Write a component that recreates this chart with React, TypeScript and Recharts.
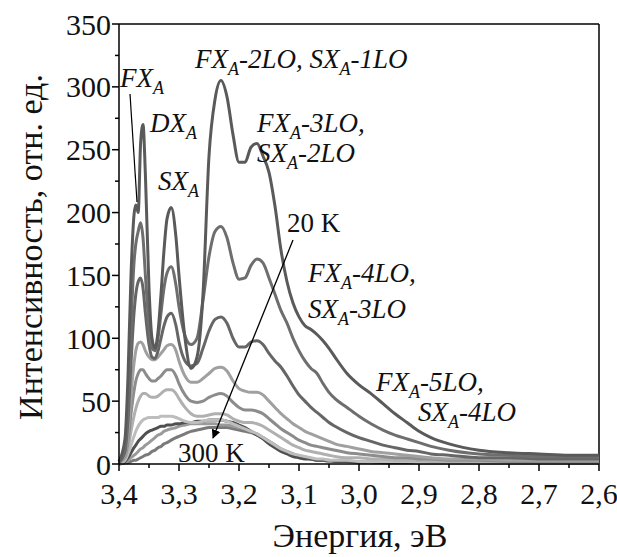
import React from 'react';
import { LineChart, Line, XAxis, YAxis, ReferenceLine } from 'recharts';

// photon energy, eV (shared grid for all spectra)
const energy = [
  3.4, 3.39, 3.385, 3.38, 3.375, 3.372, 3.368, 3.364, 3.36, 3.356,
  3.35, 3.345, 3.34, 3.335, 3.33, 3.325, 3.32, 3.313, 3.305, 3.3,
  3.29, 3.28, 3.27, 3.26, 3.25, 3.24, 3.23, 3.22, 3.21, 3.2,
  3.19, 3.18, 3.17, 3.16, 3.15, 3.14, 3.13, 3.12, 3.11, 3.1,
  3.09, 3.08, 3.07, 3.06, 3.05, 3.04, 3.02, 3.0, 2.98, 2.96,
  2.94, 2.92, 2.9, 2.88, 2.85, 2.8, 2.75, 2.7, 2.65, 2.6,
];

// intensities, arb. units, from 20 K (s1) up to 300 K (s10)
const s1 = [
  2, 20, 70, 150, 198, 206, 200, 255, 270, 230,
  140, 100, 92, 105, 135, 170, 195, 204, 180, 150,
  100, 76, 85, 135, 245, 290, 305, 292, 262, 240,
  240, 252, 255, 245, 232, 205, 170, 145, 128, 117,
  110, 107, 103, 98, 92, 85, 72, 63, 56, 48,
  40, 33, 26, 21, 16, 11, 9, 8, 7, 7,
];
const s2 = [
  2, 15, 50, 110, 160, 175, 185, 192, 180, 150,
  110, 92, 90, 100, 120, 140, 152, 157, 142, 125,
  102, 95, 100, 130, 165, 185, 189, 180, 160, 147,
  148, 158, 163, 160, 148, 135, 122, 112, 100, 90,
  82, 76, 72, 64, 57, 52, 45, 38, 32, 27,
  23, 20, 17, 14, 11, 8, 7, 6, 6, 6,
];
const s3 = [
  1, 10, 35, 80, 120, 135, 145, 148, 140, 120,
  95, 85, 84, 90, 100, 110, 117, 120, 110, 97,
  82, 78, 80, 92, 106, 115, 117, 112, 100, 93,
  93, 97, 98, 95, 88, 82, 77, 70, 62, 55,
  50, 45, 41, 37, 33, 30, 25, 21, 18, 15,
  13, 11, 10, 8, 7, 5, 5, 4, 4, 4,
];
const s4 = [
  1, 8, 25, 55, 80, 90, 96, 97, 95, 90,
  85, 83, 83, 85, 88, 91, 94, 95, 90, 82,
  70, 65, 65, 68, 72, 76, 77, 74, 66, 60,
  58, 57, 57, 55, 50, 45, 40, 36, 32, 29,
  26, 24, 22, 20, 18, 16, 14, 12, 10, 9,
  8, 7, 6, 5, 4, 4, 3, 3, 3, 3,
];
const s5 = [
  1, 6, 18, 40, 58, 66, 72, 75, 75, 72,
  68, 66, 66, 68, 70, 73, 75, 75, 70, 64,
  55, 50, 49, 50, 53, 55, 56, 54, 49, 45,
  43, 43, 42, 40, 36, 32, 28, 25, 22, 19,
  17, 15, 14, 13, 12, 11, 9, 8, 7, 6,
  5, 5, 4, 4, 3, 3, 2, 2, 2, 2,
];
const s6 = [
  1, 4, 12, 26, 38, 44, 50, 54, 56, 56,
  54, 53, 53, 54, 56, 58, 59, 59, 56, 52,
  45, 40, 38, 38, 39, 40, 40, 39, 36, 34,
  33, 33, 32, 30, 27, 24, 21, 18, 15, 13,
  11, 10, 9, 8, 7, 6, 5, 5, 4, 4,
  3, 3, 3, 2, 2, 2, 2, 1, 1, 1,
];
const s7 = [
  0, 3, 8, 15, 22, 26, 30, 33, 35, 36,
  37, 37, 37, 37, 38, 38, 38, 38, 37, 36,
  34, 33, 33, 34, 35, 35, 35, 34, 32, 30,
  28, 26, 24, 21, 18, 15, 12, 10, 8, 7,
  6, 5, 4, 4, 3, 3, 3, 2, 2, 2,
  2, 2, 1, 1, 1, 1, 1, 1, 1, 1,
];
const s8 = [
  0, 2, 5, 9, 13, 15, 18, 20, 22, 24,
  26, 27, 28, 29, 30, 30, 31, 31, 32, 32,
  33, 33, 34, 34, 35, 35, 35, 34, 33, 31,
  29, 26, 23, 20, 16, 13, 10, 8, 6, 5,
  4, 4, 3, 3, 3, 2, 2, 2, 2, 1,
  1, 1, 1, 1, 1, 1, 1, 1, 1, 1,
];
const s9 = [
  0, 1, 3, 5, 7, 8, 10, 12, 13, 15,
  17, 19, 21, 23, 24, 26, 27, 28, 29, 30,
  31, 32, 32, 32, 32, 32, 31, 31, 30, 29,
  28, 26, 24, 21, 18, 15, 12, 9, 7, 6,
  5, 4, 3, 3, 2, 2, 2, 2, 1, 1,
  1, 1, 1, 1, 1, 1, 1, 1, 1, 1,
];
const s10 = [
  0, 1, 1, 2, 3, 3, 4, 5, 6, 7,
  8, 10, 11, 13, 14, 16, 17, 19, 21, 22,
  24, 26, 27, 28, 29, 29, 29, 29, 28, 27,
  26, 25, 23, 21, 18, 15, 12, 10, 8, 6,
  5, 4, 3, 3, 2, 2, 2, 1, 1, 1,
  1, 1, 1, 1, 1, 1, 1, 1, 1, 1,
];

const xTicks = [3.4, 3.35, 3.3, 3.25, 3.2, 3.15, 3.1, 3.05, 3.0, 2.95, 2.9, 2.85, 2.8, 2.75, 2.7, 2.65, 2.6];
const yTicks = [0, 25, 50, 75, 100, 125, 150, 175, 200, 225, 250, 275, 300, 325, 350];

const series = [
  { key: 's10', color: '#7a7a7a' },
  { key: 's9', color: '#9a9a9a' },
  { key: 's8', color: '#505050' },
  { key: 's7', color: '#bdbdbd' },
  { key: 's6', color: '#b0b0b0' },
  { key: 's5', color: '#8c8c8c' },
  { key: 's4', color: '#a0a0a0' },
  { key: 's3', color: '#666666' },
  { key: 's2', color: '#6e6e6e' },
  { key: 's1', color: '#5a5a5a' },
];

const data = energy.map((e, i) => ({
  e, s1: s1[i], s2: s2[i], s3: s3[i], s4: s4[i], s5: s5[i],
  s6: s6[i], s7: s7[i], s8: s8[i], s9: s9[i], s10: s10[i],
}));

const FONT = "'Times New Roman', 'Liberation Serif', 'DejaVu Serif', serif";
const TICK_SIZE = 7;
const TICK_MARGIN = 12;

const YTick = (props: any) => {
  const { x, y, payload } = props;
  const ax = x + TICK_SIZE + TICK_MARGIN;
  const major = payload.value % 50 === 0;
  return (
    <g>
      <line x1={ax - (major ? 7 : 4)} x2={ax} y1={y} y2={y} stroke="#000" strokeWidth={1.5} />
      {major && (
        <text x={ax - 8} y={y} dy="0.35em" textAnchor="end" style={{ fontFamily: FONT, fontSize: 30 }} fill="#111">
          {payload.value}
        </text>
      )}
    </g>
  );
};

const XTick = (props: any) => {
  const { x, y, payload } = props;
  const ay = y - TICK_SIZE - TICK_MARGIN;
  const major = Math.round(payload.value * 100) % 10 === 0;
  return (
    <g>
      <line x1={x} x2={x} y1={ay} y2={ay + (major ? 7 : 4)} stroke="#000" strokeWidth={1.5} />
      {major && (
        <text x={x} y={y} dy="0.71em" textAnchor="middle" style={{ fontFamily: FONT, fontSize: 30 }} fill="#111">
          {payload.value.toFixed(1).replace('.', ',')}
        </text>
      )}
    </g>
  );
};

// label with a subscript "A" after every X
const Peak = ({ x, y, parts }: { x: number; y: number; parts: string[] }) => (
  <text x={x} y={y} style={{ fontFamily: FONT, fontSize: 27, fontStyle: 'italic' }} fill="#111">
    {parts.map((p, i) => (
      <React.Fragment key={i}>
        <tspan dy={i === 0 ? 0 : -7}>{p}</tspan>
        {i < parts.length - 1 && <tspan style={{ fontSize: 18 }} dy={7}>A</tspan>}
      </React.Fragment>
    ))}
  </text>
);

export default function App() {
  return (
    <div style={{ position: 'absolute', left: 0, top: 0, width: 617, height: 557, background: '#fff' }}>
      <LineChart width={617} height={557} data={data} margin={{ top: 24, right: 18, left: 0, bottom: 0 }}>
        <XAxis
          dataKey="e"
          type="number"
          domain={[2.6, 3.4]}
          reversed
          ticks={xTicks}
          interval={0}
          height={93}
          tickSize={TICK_SIZE}
          tickMargin={TICK_MARGIN}
          tickLine={false}
          tick={<XTick />}
          axisLine={{ stroke: '#000', strokeWidth: 1.5 }}
        />
        <YAxis
          type="number"
          domain={[0, 350]}
          ticks={yTicks}
          interval={0}
          width={119}
          tickSize={TICK_SIZE}
          tickMargin={TICK_MARGIN}
          tickLine={false}
          tick={<YTick />}
          axisLine={{ stroke: '#000', strokeWidth: 1.5 }}
        />
        <ReferenceLine y={350} stroke="#000" strokeWidth={1.5} />
        <ReferenceLine x={2.6} stroke="#000" strokeWidth={1.5} />
        {series.map((s) => (
          <Line
            key={s.key}
            dataKey={s.key}
            type="monotone"
            stroke={s.color}
            strokeWidth={3}
            dot={false}
            activeDot={false}
            isAnimationActive={false}
          />
        ))}
      </LineChart>
      <svg width={617} height={557} style={{ position: 'absolute', left: 0, top: 0, pointerEvents: 'none' }}>
        <defs>
          <marker id="ah" viewBox="0 0 10 10" refX="9" refY="5" markerWidth="7" markerHeight="7" orient="auto">
            <path d="M0,0 L10,5 L0,10 z" fill="#000" />
          </marker>
        </defs>
        <Peak x={120} y={87} parts={['FX', '']} />
        <line x1={130} y1={94} x2={137} y2={202} stroke="#000" strokeWidth={1.2} />
        <Peak x={150} y={132} parts={['DX', '']} />
        <Peak x={158} y={190} parts={['SX', '']} />
        <Peak x={195} y={68} parts={['FX', '-2LO, SX', '-1LO']} />
        <Peak x={257} y={132} parts={['FX', '-3LO,']} />
        <Peak x={257} y={162} parts={['SX', '-2LO']} />
        <Peak x={308} y={282} parts={['FX', '-4LO,']} />
        <Peak x={308} y={318} parts={['SX', '-3LO']} />
        <Peak x={376} y={391} parts={['FX', '-5LO,']} />
        <Peak x={418} y={421} parts={['SX', '-4LO']} />
        <text x={287} y={232} style={{ fontFamily: FONT, fontSize: 27 }} fill="#111">20 K</text>
        <text x={178} y={462} style={{ fontFamily: FONT, fontSize: 27 }} fill="#111">300 K</text>
        <line x1={293} y1={240} x2={213} y2={438} stroke="#000" strokeWidth={1.3} markerEnd="url(#ah)" />
        <text x={360} y={547} textAnchor="middle" style={{ fontFamily: FONT, fontSize: 34 }} fill="#111">
          Энергия, эВ
        </text>
        <text
          transform="translate(42,247) rotate(-90)"
          textAnchor="middle"
          style={{ fontFamily: FONT, fontSize: 34 }}
          fill="#111"
        >
          Интенсивность, отн. ед.
        </text>
      </svg>
    </div>
  );
}
